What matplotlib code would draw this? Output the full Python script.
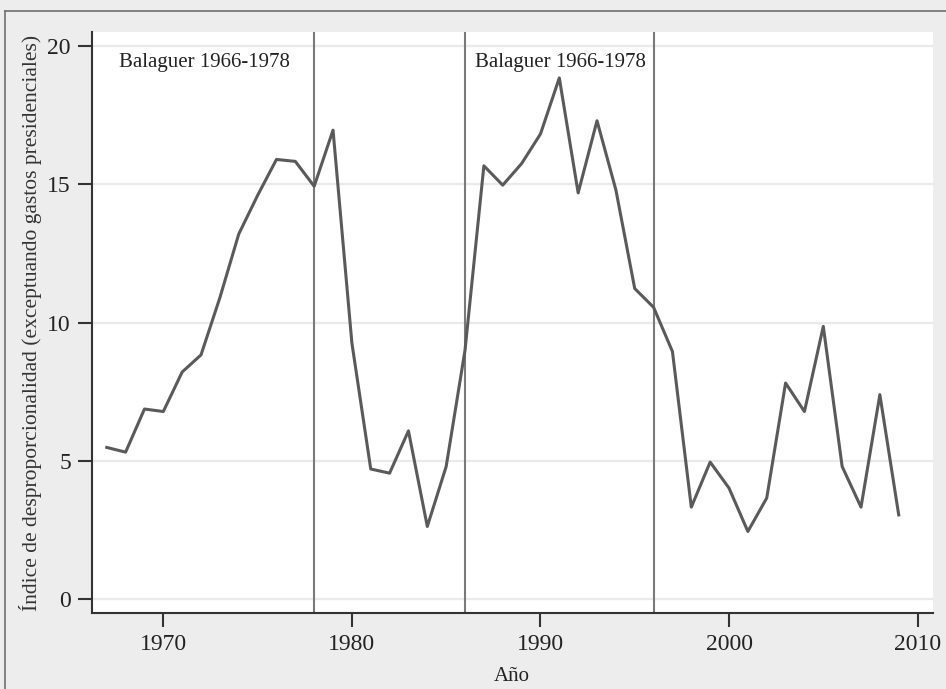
import numpy as np
import matplotlib
matplotlib.use('Agg')
import matplotlib.pyplot as plt
from matplotlib.lines import Line2D

# data
years = list(range(1967, 2010))
index = [5.48, 5.31, 6.87, 6.78, 8.21, 8.83, 10.9, 13.2, 14.6, 15.9,
         15.83, 14.93, 16.96, 9.26, 4.70, 4.55, 6.08, 2.62, 4.79, 9.0,
         15.67, 14.97, 15.75, 16.82, 18.85, 14.69, 17.3, 14.8, 11.23, 10.55,
         8.95, 3.32, 4.95, 4.01, 2.44, 3.65, 7.81, 6.78, 9.86, 4.79,
         3.32, 7.39, 3.04]
period_lines = [1978, 1986, 1996]
period_labels = ['Balaguer 1966-1978', 'Balaguer 1966-1978']
period_label_x = [1967.67, 1986.53]
yticks = [0, 5, 10, 15, 20]
xticks = [1970, 1980, 1990, 2000, 2010]

plt.rcParams['font.family'] = ['Liberation Serif', 'DejaVu Serif']

fig = plt.figure(figsize=(9.46, 6.89), dpi=100, facecolor='#ededee')
ax = fig.add_axes([0.0969, 0.1107, 0.889, 0.8424])
ax.set_facecolor('white')

# outer frame (left and top edges visible)
fig.add_artist(Line2D([0.005, 0.005], [0.0, 0.984], transform=fig.transFigure,
                      color='#6e6e6e', lw=1.2))
fig.add_artist(Line2D([0.005, 1.0], [0.984, 0.984], transform=fig.transFigure,
                      color='#6e6e6e', lw=1.2))

for yt in yticks:
    ax.axhline(yt, color='#eaeaea', lw=1.6, zorder=0)

for xv in period_lines:
    ax.axvline(xv, color='#7a7a7a', lw=1.5, zorder=1)

ax.plot(years, index, color='#5a5a5a', lw=2.2, zorder=2)

for lbl, xl in zip(period_labels, period_label_x):
    ax.text(xl, 19.4, lbl, fontsize=15, color='#222222', ha='left', va='center')

ax.set_xlim(1966.2, 2010.8)
ax.set_ylim(-0.5, 20.5)
ax.set_xticks(xticks)
ax.set_yticks(yticks)
ax.tick_params(axis='both', direction='out', length=10, width=1.5,
               color='#333333', labelsize=17, labelcolor='#222222', pad=5)

for s in ['top', 'right']:
    ax.spines[s].set_visible(False)
for s in ['left', 'bottom']:
    ax.spines[s].set_color('#333333')
    ax.spines[s].set_linewidth(1.5)

ax.set_xlabel('Año', fontsize=15, color='#222222', labelpad=9)
ax.set_ylabel('Índice de desproporcionalidad (exceptuando gastos presidenciales)',
              fontsize=15.5, color='#333333', labelpad=4)

fig.savefig('out.png', dpi=100, facecolor=fig.get_facecolor())
